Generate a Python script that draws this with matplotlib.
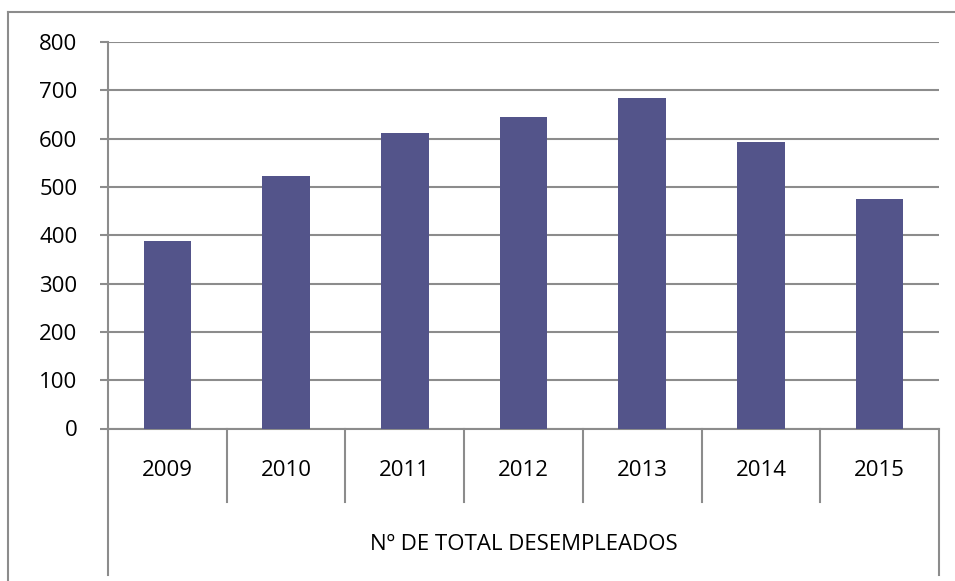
import matplotlib
matplotlib.use("Agg")
import matplotlib.pyplot as plt
from matplotlib.lines import Line2D
import numpy as np

# datos
years = ["2009", "2010", "2011", "2012", "2013", "2014", "2015"]
desempleados = [388, 523, 612, 645, 685, 593, 476]
y_ticks = [0, 100, 200, 300, 400, 500, 600, 700, 800]
group_label = "Nº DE TOTAL DESEMPLEADOS"

BAR_COLOR = "#53548A"
LINE_COLOR = "#8C8C8C"
FS = 16

plt.rcParams['font.family'] = ['Open Sans', 'DejaVu Sans']

W, H = 955, 581
fig = plt.figure(figsize=(W / 100, H / 100), dpi=100)

# area del grafico en pixeles
left, right, top, bottom = 108, 939, 42, 428.5
ax = fig.add_axes([left / W, 1 - bottom / H, (right - left) / W, (bottom - top) / H])

x = np.arange(len(years))
ax.bar(x, desempleados, width=0.4, color=BAR_COLOR, zorder=3)

ax.set_xlim(-0.5, len(years) - 0.5)
ax.set_ylim(y_ticks[0], y_ticks[-1])
ax.set_yticks(y_ticks)
ax.set_yticklabels([str(v) for v in y_ticks], fontsize=FS)
ax.tick_params(axis='y', length=6, width=1.5, color=LINE_COLOR, pad=16)
ax.set_xticks([])

ax.yaxis.grid(True, color=LINE_COLOR, linewidth=1.5, zorder=0)
ax.set_axisbelow(True)

for s in ['top', 'right']:
    ax.spines[s].set_visible(False)
for s in ['left', 'bottom']:
    ax.spines[s].set_color(LINE_COLOR)
    ax.spines[s].set_linewidth(1.5)

# eje de categorias (tabla debajo)
trans = ax.get_xaxis_transform()
inner_depth = (501.7 - bottom) / (bottom - top)
outer_depth = (575 - bottom) / (bottom - top)
for i in range(len(years) + 1):
    xb = i - 0.5
    depth = outer_depth if i in (0, len(years)) else inner_depth
    ax.add_line(Line2D([xb, xb], [0, -depth], transform=trans, color=LINE_COLOR,
                       linewidth=1.5, clip_on=False))

year_y = -(470 - bottom) / (bottom - top)
for xi, lab in zip(x, years):
    ax.text(xi, year_y, lab, transform=trans, ha='center', va='center', fontsize=FS)

grp_y = -(545 - bottom) / (bottom - top)
ax.text(0.5, grp_y, group_label, transform=ax.transAxes, ha='center', va='center', fontsize=FS)

# marco exterior
fig.add_artist(Line2D([8 / W, 1], [1 - 12 / H, 1 - 12 / H], transform=fig.transFigure,
                      color=LINE_COLOR, linewidth=1.5))
fig.add_artist(Line2D([8 / W, 8 / W], [0, 1 - 12 / H], transform=fig.transFigure,
                      color=LINE_COLOR, linewidth=1.5))

fig.savefig("out.png", dpi=100, facecolor="white")
